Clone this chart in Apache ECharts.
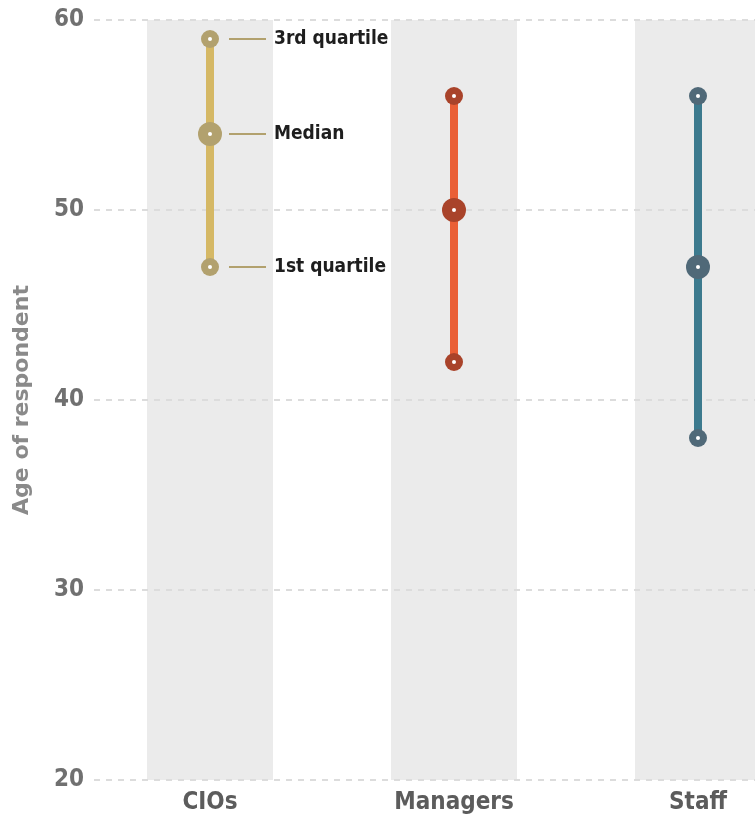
<!DOCTYPE html>
<html>
<head>
<meta charset="utf-8">
<style>
  html, body { margin: 0; padding: 0; background: #fff; }
  #chart { width: 755px; height: 816px; }
</style>
<script src="https://cdn.jsdelivr.net/npm/echarts@6/dist/echarts.min.js"></script>
</head>
<body>
<div id="chart"></div>
<script>
// Age distribution of respondents by role
const categories = ['CIOs', 'Managers', 'Staff'];
const firstQuartile = [47, 42, 38];
const median = [54, 50, 47];
const thirdQuartile = [59, 56, 56];
const yTicks = [20, 30, 40, 50, 60];
const annotationLabels = ['3rd quartile', 'Median', '1st quartile'];

const lineColors = ['#d5b865', '#ea5f36', '#3c7a8e'];
const markerColors = ['#b2a16e', '#a9432a', '#506978'];

const FONT = '"DejaVu Sans Condensed", "Liberation Sans Narrow", sans-serif';

const chart = echarts.init(document.getElementById('chart'), null, { renderer: 'canvas' });

const endPoints = [];
const medianPoints = [];
categories.forEach((c, i) => {
  endPoints.push({ value: [i, firstQuartile[i]], itemStyle: { color: markerColors[i], opacity: 1 } });
  endPoints.push({ value: [i, thirdQuartile[i]], itemStyle: { color: markerColors[i], opacity: 1 } });
  medianPoints.push({ value: [i, median[i]], itemStyle: { color: markerColors[i], opacity: 1 } });
});
const allPoints = endPoints.map(p => p.value).concat(medianPoints.map(p => p.value));

// annotation values for the first category (CIOs)
const annotationData = [
  [0, thirdQuartile[0], annotationLabels[0]],
  [0, median[0], annotationLabels[1]],
  [0, firstQuartile[0], annotationLabels[2]]
];

const option = {
  animation: false,
  // the plot runs past the right edge, so the last column is cut off
  grid: {
    left: 88, top: 20, width: 732, height: 760,
    containLabel: false,
    outerBoundsMode: 'none'
  },
  xAxis: {
    type: 'category',
    data: categories,
    boundaryGap: true,
    axisLine: { show: false },
    axisTick: { show: false },
    axisLabel: {
      margin: 11,
      color: '#5c5c5c',
      fontFamily: FONT,
      fontWeight: 'bold',
      fontSize: 24
    }
  },
  yAxis: {
    type: 'value',
    min: yTicks[0],
    max: yTicks[yTicks.length - 1],
    interval: 10,
    name: 'Age of respondent',
    nameLocation: 'middle',
    nameRotate: 90,
    nameGap: 55,
    nameTextStyle: {
      color: '#8a8a8a',
      fontFamily: '"DejaVu Sans", sans-serif',
      fontWeight: 'bold',
      fontSize: 22,
      padding: [0, 0, 0, 0]
    },
    axisLine: { show: false },
    axisTick: { show: false },
    axisLabel: {
      margin: 4,
      color: '#707070',
      fontFamily: FONT,
      fontWeight: 'bold',
      fontSize: 24
    },
    splitLine: {
      show: true,
      lineStyle: { color: '#dcdcdc', width: 2, type: [6, 6], dashOffset: 6 }
    },
    z: 1
  },
  series: [
    {
      // gray column behind each category
      type: 'bar',
      data: categories.map(() => yTicks[yTicks.length - 1]),
      barWidth: 126,
      itemStyle: { color: '#ebebeb' },
      silent: true,
      z: -1
    },
    {
      // interquartile range line
      type: 'custom',
      data: categories.map((c, i) => [i, firstQuartile[i], thirdQuartile[i]]),
      renderItem: function (params, api) {
        const i = api.value(0);
        const p1 = api.coord([i, api.value(1)]);
        const p2 = api.coord([i, api.value(2)]);
        return {
          type: 'line',
          shape: { x1: p1[0], y1: p1[1], x2: p2[0], y2: p2[1] },
          style: { stroke: lineColors[i], lineWidth: 8 }
        };
      },
      z: 3,
      silent: true
    },
    {
      type: 'scatter',
      data: endPoints,
      symbol: 'circle',
      symbolSize: 18,
      z: 4,
      silent: true
    },
    {
      type: 'scatter',
      data: medianPoints,
      symbol: 'circle',
      symbolSize: 24,
      z: 4,
      silent: true
    },
    {
      type: 'scatter',
      data: allPoints,
      symbol: 'circle',
      symbolSize: 4,
      itemStyle: { color: '#ffffff', opacity: 1 },
      z: 5,
      silent: true
    },
    {
      // key labels beside the CIO markers
      type: 'custom',
      data: annotationData,
      renderItem: function (params, api) {
        const p = api.coord([api.value(0), api.value(1)]);
        return {
          type: 'group',
          children: [
            {
              type: 'line',
              shape: { x1: p[0] + 19, y1: p[1], x2: p[0] + 56, y2: p[1] },
              style: { stroke: '#b2a16e', lineWidth: 2 }
            },
            {
              type: 'text',
              x: p[0] + 64,
              y: p[1],
              style: {
                text: annotationData[params.dataIndex][2],
                fill: '#1e1e1e',
                font: 'bold 19px ' + FONT,
                textAlign: 'left',
                textVerticalAlign: 'middle'
              }
            }
          ]
        };
      },
      z: 5,
      silent: true
    }
  ]
};

chart.setOption(option);
</script>
</body>
</html>
